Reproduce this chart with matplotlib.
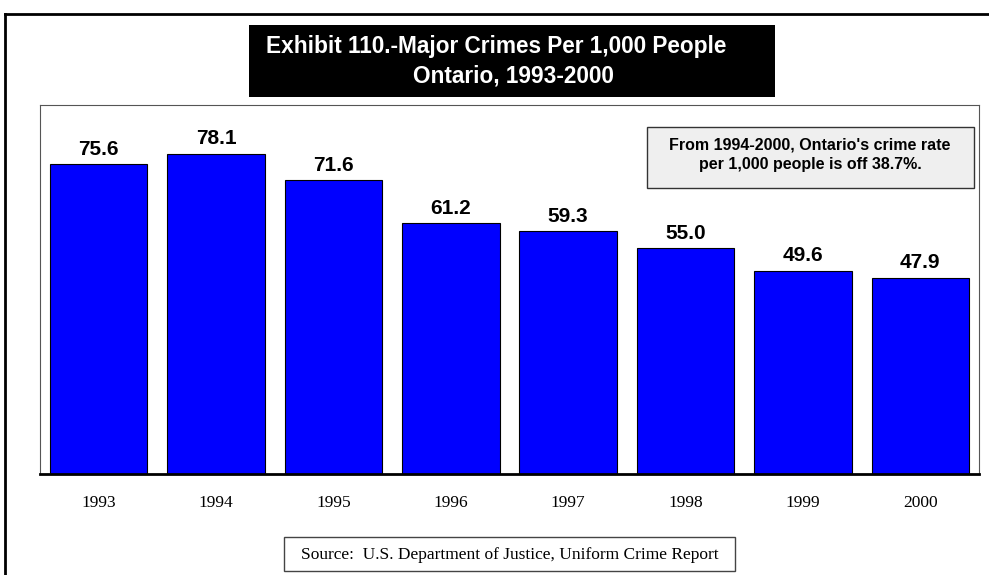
from matplotlib import pyplot as plt
from matplotlib.patches import Rectangle

#%% Data
years = ['1993', '1994', '1995', '1996', '1997', '1998', '1999', '2000']
crimes = [75.6, 78.1, 71.6, 61.2, 59.3, 55.0, 49.6, 47.9]

W, H = 989, 575
sans = 'Liberation Sans'
serif = 'Liberation Serif'

#%% Figure and plot area (pixel boxes converted to figure fractions)
fig = plt.figure(figsize=(W/100, H/100), dpi=100)

def box(x0, y0, x1, y1):
    return [x0/W, 1 - y1/H, (x1-x0)/W, (y1-y0)/H]

# outer frame: top and left edges only
fig.add_artist(plt.Line2D([5/W, 5/W], [0, 1 - 14/H], color='black', lw=2, transform=fig.transFigure))
fig.add_artist(plt.Line2D([5/W, 1], [1 - 14/H, 1 - 14/H], color='black', lw=2, transform=fig.transFigure))

ax = fig.add_axes(box(40, 105, 979, 474))
x = range(len(years))
bars = ax.bar(x, crimes, width=0.83, color='#0000ff', edgecolor='black', linewidth=0.8)
for b, v in zip(bars, crimes):
    ax.text(b.get_x() + b.get_width()/2, v + 1.3, '%.1f' % v, ha='center', va='bottom',
            fontsize=15, fontweight='bold', family=sans)

ax.set_xlim(-0.5, len(years) - 0.5)
ax.set_ylim(0, 90)
ax.set_yticks([])
ax.set_xticks(list(x))
ax.set_xticklabels(years, family=serif, fontsize=12.5)
ax.tick_params(axis='x', length=0, pad=15)
for s in ['top', 'left', 'right']:
    ax.spines[s].set_color('#555555')
    ax.spines[s].set_linewidth(0.8)
ax.spines['bottom'].set_linewidth(2)

#%% Title box
fig.add_artist(Rectangle((249/W, 1 - 97/H), 526/W, 72/H, transform=fig.transFigure,
                         facecolor='black', edgecolor='none'))
fig.text(496/W, 1 - 47/H, 'Exhibit 110.-Major Crimes Per 1,000 People', ha='center', va='center',
         color='white', fontsize=16.3, fontweight='bold', family=sans)
fig.text(513/W, 1 - 76/H, 'Ontario, 1993-2000', ha='center', va='center',
         color='white', fontsize=16.3, fontweight='bold', family=sans)

#%% Note box
fig.add_artist(Rectangle((647/W, 1 - 188/H), 327/W, 61/H, transform=fig.transFigure,
                         facecolor='#efefef', edgecolor='#333333', linewidth=1))
fig.text(810/W, 1 - 145/H, "From 1994-2000, Ontario's crime rate", ha='center', va='center',
         fontsize=11.5, fontweight='bold', family=sans)
fig.text(810/W, 1 - 164/H, 'per 1,000 people is off 38.7%.', ha='center', va='center',
         fontsize=11.5, fontweight='bold', family=sans)

#%% Source box
fig.add_artist(Rectangle((284/W, 1 - 571/H), 451/W, 34/H, transform=fig.transFigure,
                         facecolor='white', edgecolor='#444444', linewidth=1))
fig.text(509.5/W, 1 - 555/H, 'Source:  U.S. Department of Justice, Uniform Crime Report',
         ha='center', va='center', fontsize=12.5, family=serif)

plt.savefig('out.png', dpi=100)
